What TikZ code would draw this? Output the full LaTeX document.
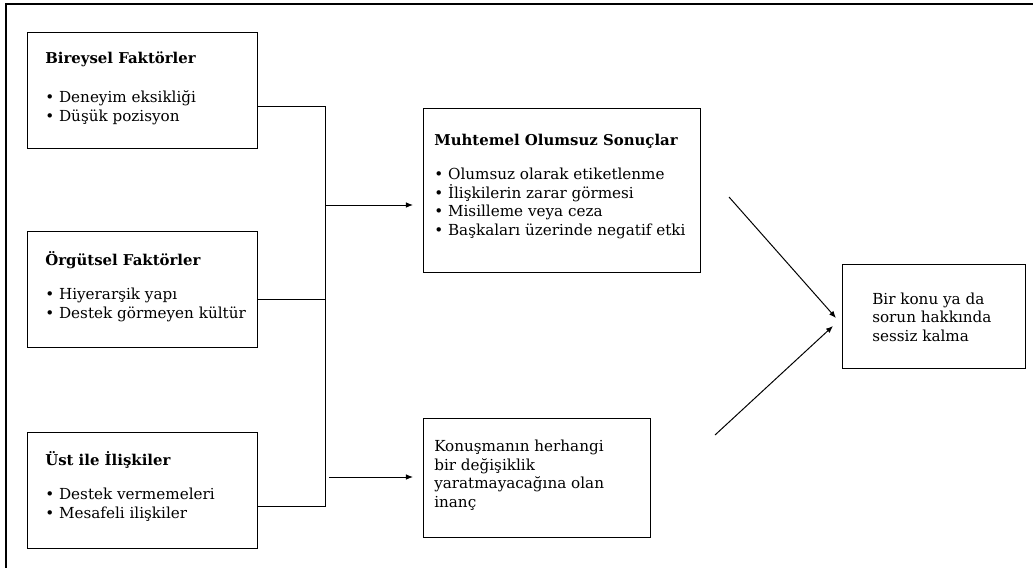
\documentclass[tikz,border=0pt]{standalone}
\usepackage{fontspec}
\setmainfont{DejaVu Serif}
\usetikzlibrary{arrows.meta}
\tikzset{
  frame/.style={line width=1.6pt},
  box/.style={draw, line width=0.7pt, anchor=north west, inner sep=0pt},
  ttl/.style={anchor=base west, inner sep=0pt, font=\bfseries\fontsize{10.6}{13}\selectfont},
  lst/.style={anchor=base west, inner sep=0pt, align=left, font=\fontsize{10.8}{13.1}\selectfont},
  link/.style={line width=0.7pt},
  arr/.style={line width=0.7pt, -{Latex[length=5pt,width=4pt]}},
}
\begin{document}
\begin{tikzpicture}[x=0.025cm, y=-0.025cm]
\useasboundingbox (0,0) rectangle (1033,568);
\draw[frame] (1033,4) -- (6,4) -- (6,568);

% left column (list nodes sit on their last baseline)
\node[box, minimum width=5.75cm, minimum height=2.9cm] (bir) at (27,32) {};
\node[ttl] (birT) at (45,63) {Bireysel Faktörler};
\node[lst] (birL) at (45,121) {• Deneyim eksikliği\\• Düşük pozisyon};

\node[box, minimum width=5.75cm, minimum height=2.9cm] (org) at (27,231) {};
\node[ttl] (orgT) at (45,265) {Örgütsel Faktörler};
\node[lst] (orgL) at (45,318) {• Hiyerarşik yapı\\• Destek görmeyen kültür};

\node[box, minimum width=5.75cm, minimum height=2.9cm] (ust) at (27,432) {};
\node[ttl] (ustT) at (45,465) {Üst ile İlişkiler};
\node[lst] (ustL) at (45,518) {• Destek vermemeleri\\• Mesafeli ilişkiler};

% middle column
\node[box, minimum width=6.925cm, minimum height=4.1cm] (son) at (423,108) {};
\node[ttl] (sonT) at (434,145) {Muhtemel Olumsuz Sonuçlar};
\node[lst] (sonL) at (434,235) {• Olumsuz olarak etiketlenme\\• İlişkilerin zarar görmesi\\• Misilleme veya ceza\\• Başkaları üzerinde negatif etki};

\node[box, minimum width=5.675cm, minimum height=2.975cm] (ina) at (423,418) {};
\node[lst] (inaL) at (434,507) {Konuşmanın herhangi\\bir değişiklik\\yaratmayacağına olan\\inanç};

% right column
\node[box, minimum width=4.575cm, minimum height=2.6cm] (ses) at (842,264) {};
\node[lst] (sesL) at (872,341) {Bir konu ya da\\sorun hakkında\\sessiz kalma};

% connectors
\coordinate (j1) at (325,106);
\coordinate (j2) at (325,299);
\coordinate (j3) at (325,506);
\coordinate (ja) at (325,205);
\coordinate (jb) at (329,477);
\draw[link] (bir.east |- j1) -- (j1) -- (j3) -- (ust.east |- j3);
\draw[link] (org.east |- j2) -- (j2);
\draw[arr, shorten >=10*0.025cm] (ja) -- (son.west |- ja);
\draw[arr, shorten >=10*0.025cm] (jb) -- (ina.west |- jb);

\coordinate (d1) at (729,197);
\coordinate (d2) at (715,435);
\draw[arr] (d1) -- (836,318);
\draw[arr] (d2) -- (833,326);
\end{tikzpicture}
\end{document}
